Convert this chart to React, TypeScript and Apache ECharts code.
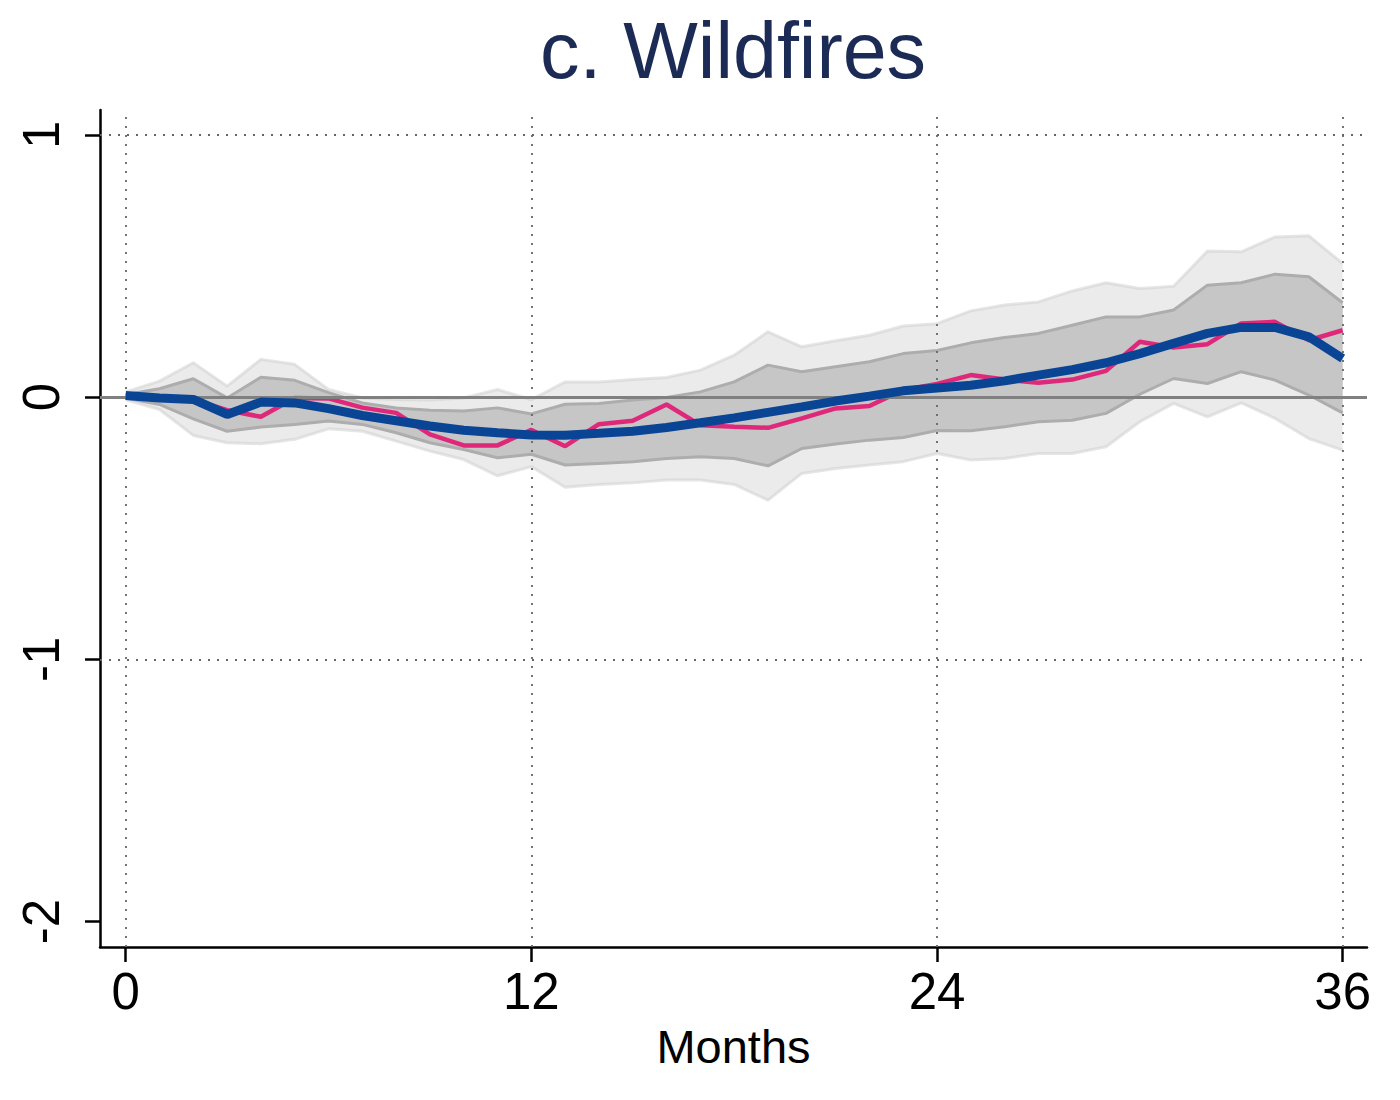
import { useEffect, useRef } from 'react'
import * as echarts from 'echarts'

const MONTHS = [
  0, 1, 2, 3, 4, 5, 6, 7, 8, 9, 10, 11, 12, 13, 14, 15, 16, 17, 18, 19, 20, 21, 22, 23, 24, 25,
  26, 27, 28, 29, 30, 31, 32, 33, 34, 35, 36,
]

const X_TICKS = [0, 12, 24, 36]
const Y_TICKS = [-2, -1, 0, 1]

// smoothed response (thick blue)
const SMOOTH = [
  0.006, -0.003, -0.009, -0.066, -0.019, -0.022, -0.044, -0.07, -0.09, -0.11, -0.126, -0.136,
  -0.144, -0.145, -0.138, -0.13, -0.116, -0.098, -0.079, -0.058, -0.037, -0.015, 0.004, 0.024,
  0.035, 0.045, 0.062, 0.084, 0.105, 0.131, 0.166, 0.205, 0.243, 0.266, 0.266, 0.23, 0.147,
]

// raw point estimates (pink)
const RAW = [
  0.006, -0.003, -0.009, -0.05, -0.075, -0.003, -0.005, -0.04, -0.06, -0.142, -0.184, -0.184,
  -0.125, -0.187, -0.103, -0.09, -0.028, -0.107, -0.113, -0.117, -0.081, -0.043, -0.034, 0.027,
  0.05, 0.084, 0.067, 0.055, 0.067, 0.1, 0.211, 0.189, 0.202, 0.281, 0.287, 0.217, 0.255,
]

// outer band (light grey)
const OUTER_HI = [
  0.02, 0.061, 0.131, 0.042, 0.144, 0.125, 0.029, -0.003, -0.009, -0.011, -0.003, 0.029, -0.01,
  0.058, 0.058, 0.067, 0.075, 0.103, 0.16, 0.249, 0.192, 0.215, 0.236, 0.271, 0.28, 0.329, 0.351,
  0.363, 0.405, 0.436, 0.414, 0.423, 0.557, 0.554, 0.611, 0.615, 0.51,
]
const OUTER_LO = [
  -0.01, -0.047, -0.146, -0.174, -0.178, -0.161, -0.121, -0.13, -0.168, -0.206, -0.238, -0.3,
  -0.265, -0.344, -0.333, -0.327, -0.316, -0.316, -0.333, -0.393, -0.291, -0.272, -0.259, -0.246,
  -0.215, -0.24, -0.234, -0.215, -0.215, -0.189, -0.094, -0.024, -0.075, -0.022, -0.081, -0.158,
  -0.202,
]

// inner band (darker grey)
const INNER_HI = [
  0.01, 0.032, 0.07, -0.003, 0.076, 0.064, 0.017, -0.022, -0.041, -0.05, -0.053, -0.041, -0.064,
  -0.027, -0.024, -0.011, -0.001, 0.02, 0.058, 0.122, 0.097, 0.116, 0.135, 0.166, 0.178, 0.207,
  0.227, 0.243, 0.274, 0.306, 0.306, 0.332, 0.427, 0.436, 0.469, 0.459, 0.36,
]
const INNER_LO = [
  -0.003, -0.028, -0.083, -0.13, -0.114, -0.104, -0.091, -0.104, -0.136, -0.174, -0.2, -0.231,
  -0.218, -0.259, -0.253, -0.246, -0.234, -0.227, -0.234, -0.262, -0.196, -0.179, -0.164, -0.154,
  -0.127, -0.128, -0.113, -0.094, -0.088, -0.062, 0.011, 0.071, 0.052, 0.097, 0.065, 0.008, -0.06,
]

const FONT = 'Liberation Sans, Arial, sans-serif'

const pairs = (vals: number[]) => MONTHS.map((m, i) => [m, vals[i]])

// confidence band as one polygon, built from the axis scale via api.coord
function band(name: string, lo: number[], hi: number[], fill: string, edge: string, z: number) {
  return {
    type: 'custom',
    name,
    z,
    silent: true,
    clip: true,
    encode: { x: 0, y: [1, 2] },
    data: MONTHS.map((m, i) => [m, lo[i], hi[i]]),
    renderItem: (params: any, api: any) => {
      if (params.dataIndex !== 0) return null
      const top = MONTHS.map((m, i) => api.coord([m, hi[i]]))
      const bottom = MONTHS.map((m, i) => api.coord([m, lo[i]]))
      const edgeStyle = { stroke: edge, lineWidth: 3, fill: 'none', lineJoin: 'round' }
      return {
        type: 'group',
        children: [
          {
            type: 'polygon',
            shape: { points: [...top, ...bottom.slice().reverse()] },
            style: { fill, stroke: 'none' },
          },
          { type: 'polyline', shape: { points: top }, style: edgeStyle },
          { type: 'polyline', shape: { points: bottom }, style: edgeStyle },
        ],
      }
    },
  }
}

export default function App() {
  const elRef = useRef<HTMLDivElement>(null)

  useEffect(() => {
    if (!elRef.current) return
    const chart = echarts.init(elRef.current, null, { renderer: 'svg' })
    const dotted = { color: '#666666', width: 1.8, type: [2, 7] as number[] }

    chart.setOption({
      animation: false,
      backgroundColor: '#ffffff',
      graphic: [
        {
          type: 'text',
          x: 733,
          y: 50,
          style: {
            text: 'c. Wildfires',
            fontSize: 79,
            fontFamily: FONT,
            fill: '#1c2b55',
            align: 'center',
            verticalAlign: 'middle',
          },
        },
      ],
      grid: { left: 100, right: 33, top: 110, bottom: 153 },
      xAxis: {
        type: 'value',
        min: -0.76,
        max: 36.72,
        name: 'Months',
        nameLocation: 'middle',
        nameGap: 76,
        nameTextStyle: { fontSize: 47, fontFamily: FONT, color: '#000' },
        axisLine: { onZero: false, lineStyle: { color: '#000', width: 2.5 } },
        axisTick: { customValues: X_TICKS, length: 15, lineStyle: { color: '#000', width: 2.5 } },
        axisLabel: {
          customValues: X_TICKS,
          fontSize: 51,
          fontFamily: FONT,
          color: '#000',
          margin: 19,
        },
        splitLine: { show: false },
      },
      yAxis: {
        type: 'value',
        min: -2.097,
        max: 1.095,
        axisLine: { show: true, onZero: false, lineStyle: { color: '#000', width: 2.5 } },
        axisTick: {
          show: true,
          customValues: Y_TICKS,
          length: 15,
          lineStyle: { color: '#000', width: 2.5 },
        },
        axisLabel: {
          customValues: Y_TICKS,
          rotate: 90,
          fontSize: 51,
          fontFamily: FONT,
          color: '#000',
          margin: 33,
        },
        splitLine: { show: false },
      },
      series: [
        {
          type: 'line',
          name: 'grid',
          data: [],
          z: 1,
          silent: true,
          markLine: {
            silent: true,
            symbol: 'none',
            label: { show: false },
            animation: false,
            data: [
              ...X_TICKS.map((v) => ({ xAxis: v, lineStyle: dotted })),
              { yAxis: 1, lineStyle: dotted },
              { yAxis: -1, lineStyle: dotted },
              { yAxis: 0, lineStyle: { color: '#808080', width: 3, type: 'solid' } },
            ],
          },
        },
        band('outer', OUTER_LO, OUTER_HI, 'rgba(222,222,222,0.6)', 'rgba(205,205,205,0.5)', 2),
        band('inner', INNER_LO, INNER_HI, 'rgba(191,191,191,0.85)', '#adadad', 3),
        {
          type: 'line',
          name: 'raw',
          data: pairs(RAW),
          symbol: 'none',
          z: 4,
          lineStyle: { color: '#e0287a', width: 4.5 },
        },
        {
          type: 'line',
          name: 'smooth',
          data: pairs(SMOOTH),
          symbol: 'none',
          z: 5,
          lineStyle: { color: '#0a4595', width: 9 },
        },
      ],
    })

    return () => chart.dispose()
  }, [])

  return (
    <div
      ref={elRef}
      style={{ position: 'fixed', left: 0, top: 0, width: 1400, height: 1100 }}
    />
  )
}
